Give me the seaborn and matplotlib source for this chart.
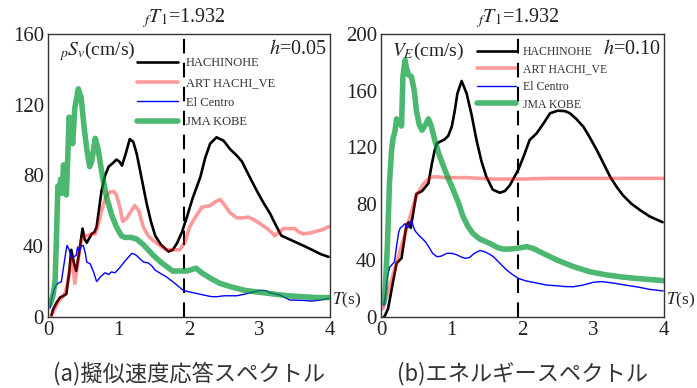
import numpy as np
import pandas as pd
import matplotlib
matplotlib.use("Agg")
import matplotlib.pyplot as plt
from matplotlib.ticker import MultipleLocator
from matplotlib.transforms import blended_transform_factory
import seaborn as sns

# ---------------- data: (a) pseudo-velocity response spectrum, h=0.05 ----------------
a_hachi_T = [0.05, 0.07, 0.12, 0.17, 0.22, 0.26, 0.30, 0.33, 0.37, 0.40, 0.44, 0.49, 0.52, 0.55,
             0.62, 0.66, 0.69, 0.76, 0.81, 0.86, 0.92, 0.97, 1.01, 1.05, 1.10, 1.16, 1.21, 1.26,
             1.33, 1.40, 1.46, 1.52, 1.60, 1.71, 1.77, 1.83, 1.90, 1.97, 2.05, 2.16, 2.23, 2.30,
             2.39, 2.49, 2.58, 2.66, 2.75, 2.85, 2.96, 3.05, 3.15, 3.23, 3.31, 3.42, 3.53, 3.64,
             3.76, 3.87, 3.98]
a_hachi_v = [1, 4, 8, 11, 12, 13, 25, 38, 30, 26, 36, 50, 44, 42,
             47, 48, 51, 71.5, 80, 85, 87, 89, 88, 85.6, 92, 100.6, 99, 92,
             78, 64, 54, 46, 41, 37, 38, 41.7, 48, 56.5, 67, 79, 90, 98,
             101.6, 99.7, 95, 92, 88, 80, 71.5, 65, 58.5, 52, 46, 44, 42, 40,
             37.7, 35.5, 34]

a_art_T = [0.05, 0.10, 0.15, 0.20, 0.25, 0.30, 0.34, 0.38, 0.42, 0.47, 0.52, 0.57, 0.62, 0.67,
           0.71, 0.76, 0.82, 0.88, 0.93, 0.97, 1.02, 1.06, 1.12, 1.18, 1.23, 1.29, 1.35, 1.42,
           1.50, 1.60, 1.68, 1.78, 1.87, 1.94, 2.01, 2.10, 2.18, 2.30, 2.37, 2.44, 2.51, 2.58,
           2.68, 2.76, 2.84, 2.92, 3.00, 3.11, 3.22, 3.28, 3.34, 3.42, 3.50, 3.56, 3.62, 3.72,
           3.81, 3.90, 3.98]
a_art_v = [1, 5, 9, 11, 14, 24, 34, 19, 30, 43, 46, 46, 47, 47,
           52, 60, 68, 70.6, 71, 69, 62, 54, 56, 60, 63, 60, 51, 46,
           43, 40, 38, 38, 38, 42, 51, 57, 62, 63, 65, 66.5, 63, 59,
           56, 56, 56.5, 55, 53, 50, 46, 48, 50, 50, 50, 48, 47, 47.5,
           48.5, 49.5, 51]

a_elc_T = [0.03, 0.06, 0.10, 0.14, 0.19, 0.22, 0.25, 0.27, 0.30, 0.33, 0.37, 0.40, 0.42, 0.44,
           0.47, 0.50, 0.53, 0.55, 0.60, 0.65, 0.69, 0.75, 0.81, 0.86, 0.90, 0.95, 1.02, 1.10,
           1.19, 1.25, 1.30, 1.36, 1.42, 1.47, 1.52, 1.60, 1.68, 1.80, 1.92, 2.06, 2.20, 2.32,
           2.40, 2.50, 2.60, 2.68, 2.80, 2.90, 3.00, 3.08, 3.15, 3.22, 3.29, 3.36, 3.43, 3.55,
           3.65, 3.74, 3.85, 3.98]
a_elc_v = [5, 12, 17, 19, 20, 28, 36, 40.5, 38, 34, 34, 35, 39.6, 37,
           40, 40.5, 36, 31, 30, 25, 20, 23, 25, 24, 25.5, 25, 28, 32,
           36, 35, 33, 31, 30.6, 29, 26.5, 24.5, 22.7, 19, 15, 13.7, 12.5, 11.5,
           11.5, 12, 12, 12, 13, 14, 15, 15, 13.7, 13, 12.4, 11, 9.6, 9.5,
           9.3, 9, 9.5, 10.5]

a_kobe_T = [0.03, 0.07, 0.10, 0.12, 0.14, 0.16, 0.18, 0.20, 0.22, 0.24, 0.26, 0.28, 0.30, 0.32,
            0.35, 0.38, 0.43, 0.47, 0.51, 0.55, 0.59, 0.62, 0.67, 0.71, 0.77, 0.83, 0.90, 0.97,
            1.04, 1.09, 1.18, 1.26, 1.35, 1.42, 1.49, 1.60, 1.70, 1.77, 1.85, 1.97, 2.05, 2.10,
            2.18, 2.30, 2.44, 2.60, 2.80, 3.00, 3.20, 3.40, 3.60, 3.80, 4.00]
a_kobe_v = [7, 12, 20, 45, 74, 70, 78, 70, 86, 74, 69, 90, 113, 108,
            98, 118, 129, 124, 108, 95, 85, 88, 101, 95, 80, 68, 58, 51,
            46, 45, 45, 44, 41, 38, 35, 31, 28, 26, 26, 26, 27, 27.6,
            25, 22, 19, 17, 15, 14, 13, 12, 11.5, 11, 11]

# ---------------- data: (b) energy spectrum, h=0.10 ----------------
b_hachi_T = [0.04, 0.06, 0.10, 0.13, 0.17, 0.22, 0.26, 0.29, 0.33, 0.36, 0.39, 0.42, 0.46, 0.50,
             0.54, 0.58, 0.63, 0.67, 0.72, 0.76, 0.79, 0.84, 0.90, 0.95, 1.00, 1.04, 1.08, 1.14,
             1.21, 1.28, 1.35, 1.42, 1.49, 1.58, 1.68, 1.75, 1.82, 1.94, 2.02, 2.10, 2.20, 2.30,
             2.39, 2.50, 2.60, 2.67, 2.76, 2.86, 2.95, 3.05, 3.15, 3.24, 3.33, 3.42, 3.54, 3.66,
             3.80, 3.98]
b_hachi_v = [0, 1.4, 6, 14, 25, 38, 40, 41.6, 55, 65, 67, 63, 75, 87,
             88, 89, 92, 94.5, 108.6, 118, 122.7, 124, 125.6, 128, 134.5, 145, 158, 166.8,
             158, 143, 125, 110, 99, 90, 87.8, 89, 93, 104, 114, 125, 129.8, 137,
             144, 145.8, 145.5, 144, 140, 134.5, 127, 118, 108, 99, 92, 86, 80, 75.6,
             71, 67]

b_art_T = [0.03, 0.10, 0.20, 0.30, 0.40, 0.50, 0.60, 0.68, 0.72, 0.80, 0.90, 1.00, 1.20, 1.40,
           1.60, 1.80, 2.00, 2.40, 2.80, 3.20, 3.60, 4.00]
b_art_v = [6, 18, 35, 52, 69, 86, 94, 98, 99, 99, 98.5, 98.5, 98.5, 98,
           97.5, 97.5, 97.5, 98, 98, 98, 98, 98]

b_elc_T = [0.04, 0.06, 0.09, 0.12, 0.15, 0.19, 0.22, 0.25, 0.27, 0.30, 0.34, 0.37, 0.39, 0.41,
           0.43, 0.45, 0.48, 0.53, 0.58, 0.63, 0.67, 0.73, 0.79, 0.85, 0.93, 1.00, 1.07, 1.13,
           1.19, 1.25, 1.32, 1.40, 1.47, 1.53, 1.59, 1.68, 1.78, 1.86, 1.94, 2.05, 2.20, 2.34,
           2.50, 2.60, 2.72, 2.85, 3.00, 3.12, 3.28, 3.45, 3.65, 3.80, 3.99]
b_elc_v = [8, 15, 28, 35, 36.7, 39, 50, 60, 62.7, 64, 66, 63, 63.7, 66,
           68.5, 65, 61, 58, 55.6, 53, 50, 45, 42.6, 43, 45, 45, 44, 42.5,
           41.5, 42, 45, 47, 46, 44.5, 42.6, 38, 33, 30, 27.3, 25.5, 24, 22.6,
           22, 21.5, 21.4, 22.5, 24.5, 25, 24, 22.6, 21, 19.5, 18.4]

b_kobe_T = [0.04, 0.06, 0.09, 0.12, 0.15, 0.17, 0.20, 0.22, 0.25, 0.29, 0.31, 0.34, 0.36, 0.39,
            0.43, 0.47, 0.50, 0.54, 0.58, 0.63, 0.67, 0.71, 0.76, 0.82, 0.88, 0.95, 1.02, 1.10,
            1.16, 1.23, 1.30, 1.40, 1.54, 1.65, 1.73, 1.80, 1.92, 2.06, 2.15, 2.25, 2.34, 2.50,
            2.72, 2.95, 3.19, 3.40, 3.60, 3.80, 3.99]
b_kobe_v = [10, 20, 50, 95, 118, 126, 132, 140, 138, 135, 170, 181.6, 176, 171,
            170, 160, 146, 136, 132, 136, 140, 135, 125, 115, 107, 98, 90, 80,
            71, 64, 59, 55, 52, 49, 48, 48, 48.5, 49.7, 48.5, 46, 43.8, 40,
            35.6, 32, 29.7, 28.3, 27.3, 26.5, 25.7]

wave_names = ["HACHINOHE", "ART HACHI_VE", "El Centro", "JMA KOBE"]
fT1 = 1.932

x_ticks = [0, 1, 2, 3, 4]
x_ticklabels = ["0", "1", "2", "3", "4"]
a_y_ticks = [0, 40, 80, 120, 160]
a_y_ticklabels = ["0", "40", "80", "120", "160"]
b_y_ticks = [0, 40, 80, 120, 160, 200]
b_y_ticklabels = ["0", "40", "80", "120", "160", "200"]

# ---------------- style ----------------
sns.set_style("white")
SERIF = "Liberation Serif"
plt.rcParams["font.family"] = "serif"
plt.rcParams["font.serif"] = [SERIF, "DejaVu Serif"]
plt.rcParams["mathtext.fontset"] = "stix"

styles = {
    "HACHINOHE":    dict(color="black", lw=1.9, alpha=1.0),
    "ART HACHI_VE": dict(color="red", lw=2.6, alpha=0.4),
    "El Centro":    dict(color="blue", lw=1.0, alpha=1.0),
    "JMA KOBE":     dict(color=(0.0, 0.6, 0.2), lw=4.0, alpha=0.7),
}


def build_frame(series):
    frames = []
    for name, (t, v) in zip(wave_names, series):
        frames.append(pd.DataFrame({"T": t, "v": v, "wave": name}))
    return pd.concat(frames, ignore_index=True)


def draw_panel(ax, df, ymax, yticks, yticklabels, ylabel, hlabel,
               leg_anchor, leg_fs, leg_spacing):
    for name in wave_names:
        st = styles[name]
        sub = df[df["wave"] == name]
        sns.lineplot(data=sub, x="T", y="v", ax=ax, color=st["color"], lw=st["lw"],
                     alpha=st["alpha"], label=name, sort=False, estimator=None)
    ax.axvline(fT1, color="black", lw=1.5, dashes=(7, 4.5), zorder=1)

    ax.set_xlim(0, 4)
    ax.set_ylim(0, ymax)
    ax.set_xticks(x_ticks)
    ax.set_xticklabels(x_ticklabels, fontfamily=SERIF, fontsize=15)
    ax.set_yticks(yticks)
    ax.set_yticklabels(yticklabels, fontfamily=SERIF, fontsize=15)
    ax.xaxis.set_minor_locator(MultipleLocator(0.5))
    ax.yaxis.set_minor_locator(MultipleLocator(20))
    ax.tick_params(which="both", direction="in", top=False, right=False,
                   pad=3, width=0.8, colors="#222222", length=4)
    for sp in ax.spines.values():
        sp.set_color("#333333")
        sp.set_linewidth(1.0)
    ax.set_xlabel("")
    ax.set_ylabel("")

    ax.text(0.04, 0.94, ylabel, transform=ax.transAxes,
            fontsize=14, ha="left", va="center", color="#222222")
    ax.text(0.99, 0.945, hlabel, transform=ax.transAxes, fontsize=14.5,
            ha="right", va="center", color="#222222")
    trans = blended_transform_factory(ax.transData, ax.transAxes)
    ax.text(fT1, 1.015, r"${}_{f}T_{1}$=1.932", transform=trans, fontsize=14.5,
            ha="center", va="bottom", color="#222222")
    ax.text(1.006, 0.06, r"$T$(s)", transform=ax.transAxes, fontsize=12.5,
            ha="left", va="center", color="#222222")

    ax.legend(loc="upper left", bbox_to_anchor=leg_anchor, frameon=False,
              fontsize=leg_fs, handlelength=3.3, handletextpad=0.6,
              labelspacing=leg_spacing, borderpad=0, borderaxespad=0)
    leg = ax.get_legend()
    for txt in leg.get_texts():
        txt.set_color("#333333")


fig = plt.figure(figsize=(6.97, 3.88), dpi=100)
ax1 = fig.add_axes([48 / 697, 1 - 317 / 388, 282 / 697, 283 / 388])
ax2 = fig.add_axes([381 / 697, 1 - 317 / 388, 283 / 697, 283 / 388])

df_a = build_frame([(a_hachi_T, a_hachi_v), (a_art_T, a_art_v),
                    (a_elc_T, a_elc_v), (a_kobe_T, a_kobe_v)])
df_b = build_frame([(b_hachi_T, b_hachi_v), (b_art_T, b_art_v),
                    (b_elc_T, b_elc_v), (b_kobe_T, b_kobe_v)])

draw_panel(ax1, df_a, 160, a_y_ticks, a_y_ticklabels, r"${}_{p}S_{v}$(cm/s)", r"$h$=0.05",
           (0.315, 0.918), 9, 0.62)
draw_panel(ax2, df_b, 200, b_y_ticks, b_y_ticklabels, r"$V_{E}$(cm/s)", r"$h$=0.10",
           (0.338, 0.958), 8.5, 0.47)

cjk = ["Noto Sans CJK JP", "DejaVu Sans"]
fig.text((48 + 282 / 2) / 697, 0.038, "(a)擬似速度応答スペクトル", ha="center", va="center",
         fontsize=16, family=cjk, color="#333333")
fig.text((381 + 283 / 2) / 697, 0.038, "(b)エネルギースペクトル", ha="center", va="center",
         fontsize=16, family=cjk, color="#333333")

fig.savefig("out.png", dpi=100)
